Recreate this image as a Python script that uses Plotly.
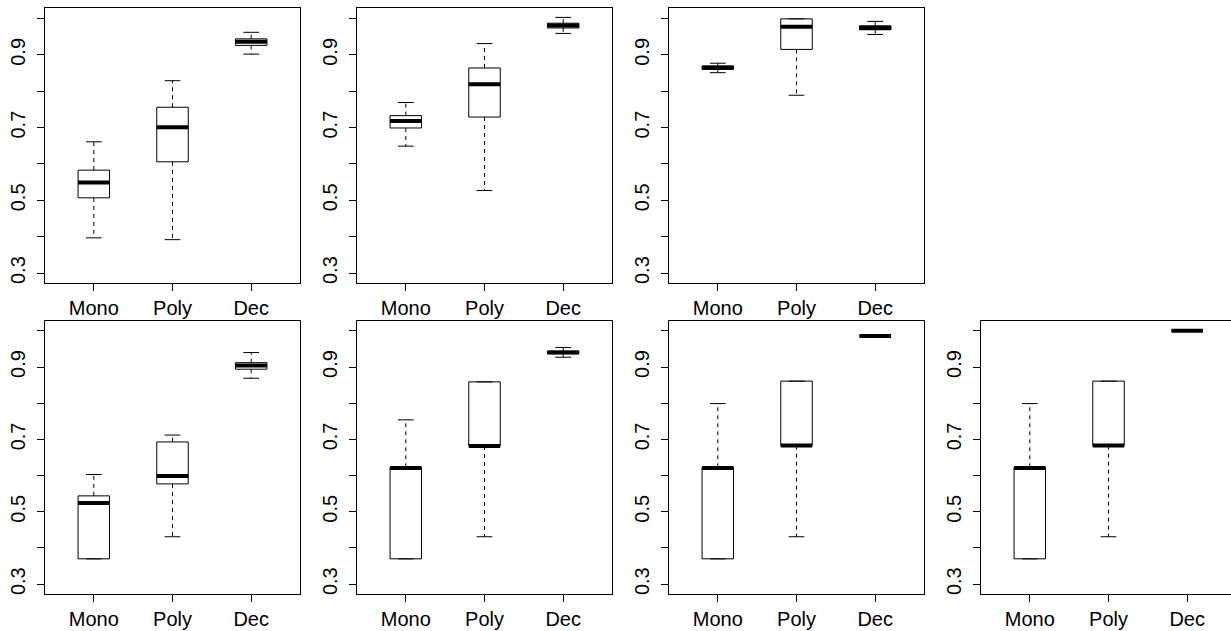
import plotly.graph_objects as go

# ---------------- data ----------------
categories = ["Mono", "Poly", "Dec"]
y_tick_values = [0.3, 0.4, 0.5, 0.6, 0.7, 0.8, 0.9, 1.0]
y_tick_labels = ["0.3", "", "0.5", "", "0.7", "", "0.9", ""]

# one row per panel (panels 1-3 top row, 4-7 bottom row), values for Mono, Poly, Dec
whisker_low = [
    [0.397, 0.392, 0.902],
    [0.649, 0.527, 0.959],
    [0.851, 0.789, 0.956],
    [0.370, 0.431, 0.869],
    [0.370, 0.431, 0.927],
    [0.370, 0.431, 0.986],
    [0.370, 0.431, 1.000],
]
q1 = [
    [0.507, 0.606, 0.926],
    [0.699, 0.729, 0.974],
    [0.860, 0.915, 0.969],
    [0.370, 0.577, 0.894],
    [0.370, 0.682, 0.937],
    [0.370, 0.683, 0.986],
    [0.370, 0.683, 1.000],
]
median = [
    [0.549, 0.701, 0.936],
    [0.718, 0.819, 0.981],
    [0.865, 0.977, 0.974],
    [0.524, 0.599, 0.904],
    [0.621, 0.682, 0.940],
    [0.621, 0.683, 0.986],
    [0.621, 0.683, 1.000],
]
q3 = [
    [0.583, 0.756, 0.944],
    [0.733, 0.864, 0.987],
    [0.869, 0.999, 0.980],
    [0.544, 0.693, 0.912],
    [0.623, 0.859, 0.944],
    [0.623, 0.861, 0.986],
    [0.623, 0.861, 1.000],
]
whisker_high = [
    [0.661, 0.829, 0.962],
    [0.769, 0.931, 1.003],
    [0.877, 0.999, 0.992],
    [0.603, 0.712, 0.940],
    [0.754, 0.859, 0.954],
    [0.799, 0.861, 0.986],
    [0.799, 0.861, 1.000],
]

# ---------------- layout geometry ----------------
W, H = 1231, 631
panel_rows = [0, 0, 0, 1, 1, 1, 1]
panel_cols = [0, 1, 2, 0, 1, 2, 3]
col_px = [(45, 300), (357, 612), (669, 924), (981, 1231)]
row_px = [(8.3, 283.3), (320.7, 594.3)]
px_per_unit = 255 / 3.24
Y_RANGE = [0.272, 1.028]

HALF_BOX = 0.2
HALF_CAP = 0.1
FONT = dict(family="Liberation Sans, Arial, Helvetica, sans-serif", size=20, color="black")

fig = go.Figure()
layout = {}

for p in range(len(median)):
    r, c = panel_rows[p], panel_cols[p]
    idx = "" if p == 0 else str(p + 1)
    xa, ya = "x" + idx, "y" + idx
    x0, x1 = col_px[c]
    y0, y1 = row_px[r]
    xr = [0.38, 0.38 + (x1 - x0) / px_per_unit]

    wx, wy, cx, cy, bx, by, mx, my = [], [], [], [], [], [], [], []
    for k in range(len(categories)):
        pos = k + 1
        lo, a, m, b, hi = whisker_low[p][k], q1[p][k], median[p][k], q3[p][k], whisker_high[p][k]
        # whiskers (dashed)
        wx += [pos, pos, None, pos, pos, None]
        wy += [b, hi, None, a, lo, None]
        # caps
        cx += [pos - HALF_CAP, pos + HALF_CAP, None, pos - HALF_CAP, pos + HALF_CAP, None]
        cy += [hi, hi, None, lo, lo, None]
        # box
        bx += [pos - HALF_BOX, pos + HALF_BOX, pos + HALF_BOX, pos - HALF_BOX, pos - HALF_BOX, None]
        by += [a, a, b, b, a, None]
        # median
        mx += [pos - HALF_BOX, pos + HALF_BOX, None]
        my += [m, m, None]

    common = dict(xaxis=xa, yaxis=ya, mode="lines", showlegend=False, hoverinfo="skip")
    fig.add_trace(go.Scatter(x=wx, y=wy, line=dict(color="black", width=1, dash="4px,4px"), **common))
    fig.add_trace(go.Scatter(x=cx, y=cy, line=dict(color="black", width=1), **common))
    fig.add_trace(go.Scatter(x=bx, y=by, line=dict(color="black", width=1), **common))
    fig.add_trace(go.Scatter(x=mx, y=my, line=dict(color="black", width=4), **common))

    layout["xaxis" + idx] = dict(
        domain=[x0 / W, x1 / W], anchor=ya, range=xr,
        showline=True, linecolor="black", linewidth=1, mirror=True,
        ticks="outside", ticklen=7, tickwidth=1, tickcolor="black",
        tickvals=[1, 2, 3], ticktext=categories, tickfont=FONT,
        showgrid=False, zeroline=False, fixedrange=True,
    )
    layout["yaxis" + idx] = dict(
        domain=[1 - y1 / H, 1 - y0 / H], anchor=xa, range=Y_RANGE,
        showline=True, linecolor="black", linewidth=1, mirror=(c != 3),
        ticks="outside", ticklen=7, tickwidth=1, tickcolor="black",
        tickvals=y_tick_values, ticktext=y_tick_labels, tickangle=-90, tickfont=FONT,
        ticklabelstandoff=4,
        showgrid=False, zeroline=False, fixedrange=True,
    )

fig.update_layout(
    width=W, height=H,
    margin=dict(l=0, r=0, t=0, b=0),
    paper_bgcolor="white", plot_bgcolor="white",
    **layout,
)

fig.write_html(
    "out.html",
    config={"displayModeBar": False},
    post_script="document.body.style.margin='0';document.body.style.overflow='hidden';",
)
